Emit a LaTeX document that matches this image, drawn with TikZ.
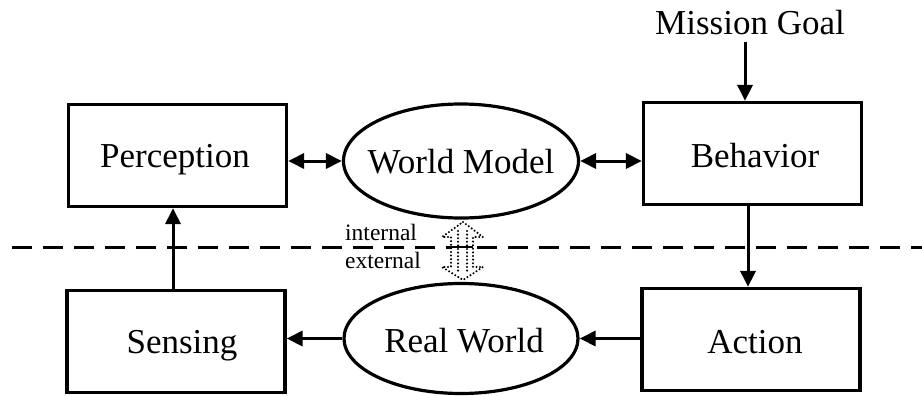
\documentclass[tikz,border=0pt]{standalone}
\usepackage{fontspec}
\setmainfont{Liberation Serif}
\usetikzlibrary{arrows.meta,shapes.geometric}
\begin{document}
\begin{tikzpicture}[x=1pt,y=-1pt,
  box/.style={draw,line width=3.2pt,rectangle,inner sep=0pt,minimum width=218pt,minimum height=102pt},
  oval/.style={draw,line width=3.2pt,ellipse,inner sep=0pt,minimum width=235pt,minimum height=114pt},
  lbl/.style={anchor=base,inner sep=0pt,font=\fontsize{35}{40}\selectfont},
  small/.style={anchor=base west,inner sep=0pt,font=\fontsize{23.5}{26}\selectfont},
  tip/.style={Triangle[length=16pt,width=15pt]},
  conn/.style={line width=3pt,-{Triangle[length=16pt,width=15pt]}},
  biconn/.style={line width=3pt,{Triangle[length=16pt,width=15pt]}-{Triangle[length=16pt,width=15pt]}},
  dots/.style={line width=2.3pt,dash pattern=on 0pt off 3.6pt,line cap=round}]
\useasboundingbox (0,0) rectangle (922,396);
% separator
\draw[line width=3pt,dash pattern=on 20pt off 11pt] (12,247) -- (922,247);
% shapes
\node[box] (perc) at (177.5,155.5) {};
\node[box] (sens) at (176,341.5) {};
\node[box] (beh) at (752.5,153.5) {};
\node[box] (act) at (751,339.5) {};
\node[oval,fill=white] (wm) at (461,161) {};
\node[oval,fill=white,minimum height=110pt,minimum width=234pt] (rw) at (461,338.5) {};
% texts
\node[lbl] (percT) at (175,167) {Perception};
\node[lbl] (sensT) at (182,353) {Sensing};
\node[lbl] (behT) at (755,167) {Behavior};
\node[lbl] (actT) at (755,353) {Action};
\node[lbl] (wmT) at (461,173) {World Model};
\node[lbl] (rwT) at (464,352) {Real World};
\node[lbl] (goal) at (750,35) {Mission Goal};
\node[small] (intT) at (345,240) {internal};
\node[small] (extT) at (345,268) {external};
% connectors
\coordinate (goalEnd) at (745,42);
\draw[conn] (goalEnd) -- (goalEnd |- beh.north);
\coordinate (ba) at (748,0);
\draw[conn] (ba |- beh.south) -- (ba |- act.north);
\coordinate (sp) at (173,0);
\draw[conn] (sp |- sens.north) -- (sp |- perc.south);
\draw[biconn] (wm.west -| perc.east) -- (wm.west);
\draw[biconn] (wm.east) -- (wm.east -| beh.west);
\draw[conn] (rw.west) -- (rw.west -| sens.east);
\draw[conn] (rw.east -| act.west) -- (rw.east);
% dotted hollow double arrow
\fill[white] (463,222) -- (483,237) -- (473,237) -- (473,267) -- (483,267) -- (463,280)
  -- (442,267) -- (451,267) -- (451,237) -- (442,237) -- cycle;
\draw[dots]
  (463,222) -- (483,237) -- (473,237) -- (473,267) -- (483,267) -- (463,280)
  -- (442,267) -- (451,267) -- (451,237) -- (442,237) -- cycle;
\draw[dots] (458,231) -- (458,272);
\draw[dots] (467,231) -- (467,272);
\draw[line width=2pt] (451,247) -- (473,247);
\end{tikzpicture}
\end{document}
